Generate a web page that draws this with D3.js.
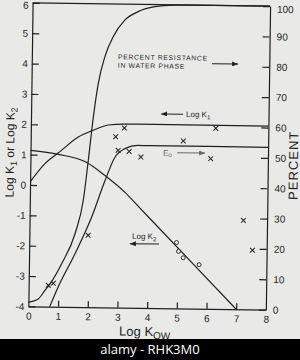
<!DOCTYPE html>
<html>
<head>
<meta charset="utf-8">
<script src="https://cdn.jsdelivr.net/npm/d3@7"></script>
<style>
	body { margin: 0; background: #e9eae8; }
	svg { display: block; font-family: "Liberation Sans", Arial, sans-serif; }
</style>
</head>
<body>
<svg id="chart"></svg>
<script>
// axis ticks
const xTicks = [0, 1, 2, 3, 4, 5, 6, 7, 8];
const logTicks = [-4, -3, -2, -1, 0, 1, 2, 3, 4, 5, 6];
const pctTicks = [0, 10, 20, 30, 40, 50, 60, 70, 80, 90, 100];

// percent resistance in water phase (right axis, %)
const resistanceX = [0, 0.33, 0.55, 0.72, 1.1, 1.54, 1.8, 1.95, 2.1, 2.25, 2.46, 2.73, 3.12, 3.56, 4.12, 4.8, 5.5, 8];
const resistancePct = [1.4, 2.5, 5.3, 7.5, 14.2, 24.2, 35.2, 48.4, 62.7, 73.8, 82.6, 89.2, 94.8, 97.6, 99.3, 99.9, 100, 100];

// log K1 (left axis)
const k1X = [0, 0.49, 1.0, 1.6, 2.05, 2.61, 3.17, 3.6, 8];
const k1Y = [0.1, 0.71, 1.12, 1.6, 1.81, 2.01, 2.05, 2.05, 2.05];

// Eo (right axis, %)
const eoX = [0.72, 0.99, 1.55, 2.09, 2.52, 2.85, 3.18, 3.61, 4.0, 8];
const eoPct = [0, 6.4, 17.6, 29.7, 41.7, 49.6, 52.4, 53.5, 53.5, 53.5];

// log K2 (left axis)
const k2X = [0, 0.94, 1.87, 2.55, 3.2, 3.72, 4.1, 7.0];
const k2Y = [1.14, 1.02, 0.78, 0.32, -0.2, -0.72, -1.1, -4.0];

// measured points
const k1CrossX = [2.86, 3.15, 5.14, 6.23];
const k1CrossY = [1.63, 1.92, 1.52, 1.95];
const pctCrossX = [0.66, 0.83, 1.98, 2.95, 3.32, 3.72, 6.07, 7.2, 7.52];
const pctCrossPct = [7.0, 7.7, 23.7, 51.8, 51.5, 49.7, 49.5, 29.3, 19.5];
const k2CircleX = [4.96, 5.03, 5.19, 5.73];
const k2CircleY = [-1.83, -2.12, -2.33, -2.55];

const size = { w: 300, h: 360 };
const plot = { l: 30.5, r: 268, t: 4.5, b: 308 };
const ink = "#1f1f1f";

const svg = d3.select("svg#chart").attr("width", size.w).attr("height", size.h);

// the scanned figure is slightly tilted
const g = svg.append("g").attr("transform", "rotate(0.8,149,155)");

const x = d3.scaleLinear().domain([0, 8]).range([plot.l, plot.r]);
const y = d3.scaleLinear().domain([-4, 6]).range([plot.b, plot.t]);
const p = d3.scaleLinear().domain([0, 100]).range([plot.b, plot.t]);

// arrow heads
const defs = svg.append("defs");
["dark", "grey"].forEach((k) => {
	defs.append("marker")
		.attr("id", "arrow-" + k)
		.attr("markerUnits", "userSpaceOnUse")
		.attr("markerWidth", 6)
		.attr("markerHeight", 5)
		.attr("refX", 6)
		.attr("refY", 2.5)
		.attr("orient", "auto")
		.append("path")
		.attr("d", "M0,0 L6,2.5 L0,5 Z")
		.attr("fill", k == "dark" ? ink : "#6a6a6a");
});

// axes
const fmt = (d) => (d < 0 ? "-" + Math.abs(d) : d);

const axL = g.append("g")
	.attr("transform", `translate(${plot.l},0)`)
	.call(d3.axisLeft(y).tickValues(logTicks).tickFormat(fmt).tickSizeInner(-7).tickSizeOuter(0).tickPadding(4));
const axR = g.append("g")
	.attr("transform", `translate(${plot.r},0)`)
	.call(d3.axisRight(p).tickValues(pctTicks).tickSizeInner(-7).tickSizeOuter(0).tickPadding(7));
const axB = g.append("g")
	.attr("transform", `translate(0,${plot.b})`)
	.call(d3.axisBottom(x).tickValues(xTicks).tickSizeInner(-6).tickSizeOuter(0).tickPadding(6));

[axL, axR, axB].forEach((a) => {
	a.selectAll("path, line").attr("stroke", ink).attr("stroke-width", 1.2);
	a.selectAll("text").attr("fill", ink).attr("font-size", 10);
});
axB.selectAll(".tick").filter((d) => d == 0 || d == 8).select("line").remove();
// keep the top labels inside the picture
axL.selectAll(".tick").filter((d) => d == 6).select("text").attr("dy", "0.55em");
axR.selectAll(".tick").filter((d) => d == 100).select("text").attr("dy", "0.6em");

// top frame
g.append("line")
	.attr("x1", x(0)).attr("x2", x(8))
	.attr("y1", y(6)).attr("y2", y(6))
	.attr("stroke", ink).attr("stroke-width", 1.2);

// curves
const curves = [
	{ xs: resistanceX, ys: resistancePct, s: p },
	{ xs: k1X, ys: k1Y, s: y },
	{ xs: eoX, ys: eoPct, s: p },
	{ xs: k2X, ys: k2Y, s: y },
];
curves.forEach((c) => {
	const line = d3.line()
		.x((d) => x(d[0]))
		.y((d) => c.s(d[1]))
		.curve(d3.curveMonotoneX);
	g.append("path")
		.attr("d", line(d3.zip(c.xs, c.ys)))
		.attr("fill", "none")
		.attr("stroke", ink)
		.attr("stroke-width", 1.2);
});

// crosses
const crosses = d3.zip(k1CrossX, k1CrossY).map((d) => [x(d[0]), y(d[1])])
	.concat(d3.zip(pctCrossX, pctCrossPct).map((d) => [x(d[0]), p(d[1])]));
g.selectAll("path.cross")
	.data(crosses)
	.join("path")
	.classed("cross", true)
	.attr("d", (d) => `M${d[0] - 2.4},${d[1] - 2.4}L${d[0] + 2.4},${d[1] + 2.4}M${d[0] - 2.4},${d[1] + 2.4}L${d[0] + 2.4},${d[1] - 2.4}`)
	.attr("stroke", ink)
	.attr("stroke-width", 1);

// circles
g.selectAll("circle")
	.data(d3.zip(k2CircleX, k2CircleY))
	.join("circle")
	.attr("cx", (d) => x(d[0]))
	.attr("cy", (d) => y(d[1]))
	.attr("r", 2)
	.attr("fill", "#e9eae8")
	.attr("stroke", ink)
	.attr("stroke-width", 0.9);

// annotations
function label(px, py, parts, opts = {}) {
	const t = g.append("text")
		.attr("x", px)
		.attr("y", py)
		.attr("font-size", opts.size || 8)
		.attr("fill", opts.color || ink)
		.attr("letter-spacing", opts.spacing || 0);
	parts.forEach((s) => {
		if (typeof s == "string") t.append("tspan").text(s);
		else t.append("tspan").attr("dy", s.dy).attr("font-size", s.size).text(s.t);
	});
	return t;
}
function arrow(x1, y1, x2, y2, k = "dark") {
	g.append("line")
		.attr("x1", x1).attr("y1", y1)
		.attr("x2", x2).attr("y2", y2)
		.attr("stroke", k == "dark" ? ink : "#6a6a6a")
		.attr("stroke-width", 1)
		.attr("marker-end", `url(#arrow-${k})`);
}

label(x(2.9), p(81.8), ["PERCENT RESISTANCE"], { size: 6.8, spacing: 0.7 });
label(x(2.9), p(79), ["IN WATER PHASE"], { size: 6.8, spacing: 0.7 });
arrow(x(6.07), p(80.8), x(6.95), p(80.8));

arrow(x(5.12), y(2.4), x(4.38), y(2.4));
label(x(5.22), y(2.31), ["Log K", { t: "1", dy: 2, size: 6 }]);

label(x(4.46), p(50.2), ["E", { t: "o", dy: 1, size: 6.5 }], { color: "#6a6a6a" });
arrow(x(4.94), p(51.3), x(5.88), p(51.3), "grey");

label(x(3.46), y(-1.73), ["Log K", { t: "2", dy: 2, size: 6 }]);
arrow(x(4.37), y(-1.89), x(3.39), y(-1.89));

// axis titles
g.append("text")
	.attr("transform", `translate(14,${(plot.t + plot.b) / 2 - 2}) rotate(-90)`)
	.attr("text-anchor", "middle")
	.attr("font-size", 12)
	.attr("fill", ink)
	.call((t) => {
		t.append("tspan").text("Log K");
		t.append("tspan").attr("dy", 3).attr("font-size", 9).text("1");
		t.append("tspan").attr("dy", -3).text(" or Log K");
		t.append("tspan").attr("dy", 3).attr("font-size", 9).text("2");
	});

g.append("text")
	.attr("transform", `translate(298,${(plot.t + plot.b) / 2 + 7}) rotate(-90)`)
	.attr("text-anchor", "middle")
	.attr("font-size", 13)
	.attr("letter-spacing", 1)
	.attr("fill", ink)
	.text("PERCENT");

g.append("text")
	.attr("x", (plot.l + plot.r) / 2 - 2)
	.attr("y", plot.b + 28)
	.attr("text-anchor", "middle")
	.attr("font-size", 13)
	.attr("fill", ink)
	.call((t) => {
		t.append("tspan").text("Log K");
		t.append("tspan").attr("dy", 3).attr("font-size", 10).text("OW");
	});

// stock watermark strip
svg.append("rect")
	.attr("x", 0).attr("y", 339)
	.attr("width", size.w).attr("height", size.h - 339)
	.attr("fill", "#000");
svg.append("text")
	.attr("x", size.w / 2)
	.attr("y", 354)
	.attr("text-anchor", "middle")
	.attr("font-family", "'Open Sans', sans-serif")
	.attr("font-size", 13)
	.attr("fill", "#fff")
	.text("alamy - RHK3M0");
</script>
</body>
</html>
